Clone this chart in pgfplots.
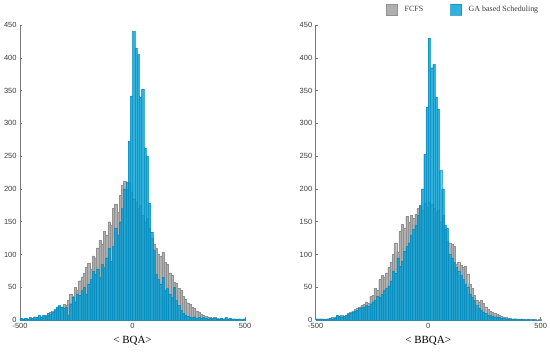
\documentclass[border=0pt]{standalone}
\usepackage{pgfplots}
\pgfplotsset{compat=1.18}
\usepackage{pgfplotstable}
\usepackage{fontspec}
\setmainfont{Liberation Serif}
\newfontfamily\arialf{Liberation Sans}
\definecolor{fcfs}{RGB}{176,176,176}
\definecolor{fcfsedge}{RGB}{145,145,145}
\definecolor{ga}{RGB}{0,158,212}
\definecolor{gaedge}{RGB}{0,138,190}
\definecolor{axgray}{RGB}{120,120,120}
\definecolor{txtgray}{RGB}{60,60,60}

\pgfplotstableread{
x f g
-500 2 3
-490 1 2
-480 2 3
-470 1 2
-460 2 4
-450 3 3
-440 2 5
-430 4 4
-420 3 8
-410 5 5
-400 6 7
-390 8 6
-380 7 10
-370 12 9
-360 14 12
-350 15 16
-340 18 20
-330 21 22
-320 20 20
-310 24 18
-300 22 20
-290 30 8
-280 40 25
-270 36 35
-260 50 28
-250 46 40
-240 60 38
-230 66 45
-220 72 50
-210 80 40
-200 86 55
-190 78 62
-180 98 75
-170 95 70
-160 110 78
-150 122 65
-140 115 85
-130 135 80
-120 130 95
-110 150 110
-100 145 90
-90 170 112
-80 176 140
-70 165 130
-60 190 150
-50 205 170
-40 212 200
-30 200 210
-20 210 273
-10 195 342
0 185 440
10 180 415
20 170 405
30 175 340
40 160 352
50 150 262
60 155 250
70 140 178
80 125 134
90 115 107
100 110 70
110 100 62
120 98 55
130 104 65
140 88 45
150 85 48
160 72 40
170 68 35
180 58 50
190 56 30
200 48 22
210 45 15
220 36 10
230 32 8
240 26 6
250 24 5
260 20 4
270 18 5
280 14 3
290 12 4
300 9 3
310 8 4
320 6 3
330 5 2
340 4 3
350 3 2
360 4 3
370 3 2
380 2 2
390 3 3
400 2 2
410 1 4
420 2 2
430 1 3
440 1 2
450 1 2
460 1 1
470 1 2
480 0 1
490 1 2
500 0 0
}\leftdata

\pgfplotstableread{
x f g
-500 1 2
-490 2 1
-480 1 2
-470 2 1
-460 1 1
-450 2 2
-440 3 3
-430 4 2
-420 4 3
-410 6 7
-400 5 6
-390 7 5
-380 6 6
-370 8 7
-360 10 9
-350 12 10
-340 14 12
-330 16 14
-320 18 15
-310 20 18
-300 22 19
-290 24 20
-280 28 22
-270 26 21
-260 36 25
-250 38 28
-240 48 30
-230 45 36
-220 62 35
-210 68 40
-200 66 45
-190 72 48
-180 80 52
-170 88 60
-160 100 75
-150 118 72
-140 104 95
-130 135 82
-120 146 90
-110 140 105
-100 158 112
-90 150 118
-80 160 130
-70 155 138
-60 162 145
-50 170 160
-40 174 175
-30 168 200
-20 178 253
-10 172 325
0 180 430
10 176 385
20 170 390
30 165 340
40 168 322
50 150 228
60 160 200
70 138 145
80 120 140
90 118 100
100 115 95
110 112 88
120 85 80
130 88 75
140 84 68
150 80 62
160 82 55
170 70 50
180 55 40
190 48 35
200 38 30
210 30 22
220 28 18
230 30 15
240 26 12
250 20 10
260 16 8
270 14 7
280 12 6
290 10 5
300 9 5
310 8 4
320 6 3
330 5 3
340 4 2
350 3 2
360 3 2
370 2 1
380 2 2
390 2 1
400 1 1
410 2 1
420 1 1
430 1 0
440 1 1
450 1 0
460 0 1
470 1 0
480 0 0
490 1 0
500 0 0
}\rightdata

\pgfplotsset{
  hist/.style={
    scale only axis, width=225bp, height=295bp,
    xmin=-500, xmax=500, ymin=0, ymax=450,
    axis x line*=bottom, axis y line*=left,
    axis line style={axgray, line width=0.6bp},
    xtick={-500,0,500}, xticklabels={-500,0,500},
    ytick={0,50,...,450}, yticklabels={0,50,100,150,200,250,300,350,400,450},
    tick align=inside, major tick length=2.5bp,
    tick style={axgray, line width=0.5bp},
    ticklabel style={font=\arialf\fontsize{7.5}{8}\selectfont, text=txtgray},
    xlabel style={font=\fontsize{11}{12}\selectfont, at={(axis description cs:0.5,-0.081)}, anchor=base},
    clip=false,
  },
  fcfsbar/.style={ybar interval, fill=fcfs, draw=fcfsedge, line width=0.25bp},
  gabar/.style={ybar interval, fill=ga, fill opacity=0.8, draw=gaedge, draw opacity=0.7, line width=0.2bp},
}

\begin{document}
\begin{tikzpicture}
\path[use as bounding box] (0,0) rectangle (550bp,352bp);
\begin{axis}[hist, at={(20bp,32bp)}, anchor=south west, xlabel={< BQA>}]
\addplot[fcfsbar] table[x=x,y=f]{\leftdata};
\addplot[gabar] table[x=x,y=g]{\leftdata};
\end{axis}
\begin{axis}[hist, at={(315.7bp,32bp)}, anchor=south west, xlabel={< BBQA>},
  legend columns=2,
  legend image code/.code={\draw[#1, line width=0.4bp] (0bp,-5.5bp) rectangle (11bp,5.5bp);},
  legend style={draw=none, fill=none, inner sep=0pt, at={(axis description cs:0.313,1.071)}, anchor=north west,
    font=\fontsize{8}{9}\selectfont, text=txtgray, cells={anchor=west},
    /tikz/every odd column/.append style={column sep=5bp},
    /tikz/every even column/.append style={column sep=25bp}},
]
\addplot[fcfsbar] table[x=x,y=f]{\rightdata};
\addlegendentry{FCFS}
\addplot[gabar] table[x=x,y=g]{\rightdata};
\addlegendentry{GA based Scheduling}
\end{axis}
\end{tikzpicture}
\end{document}
